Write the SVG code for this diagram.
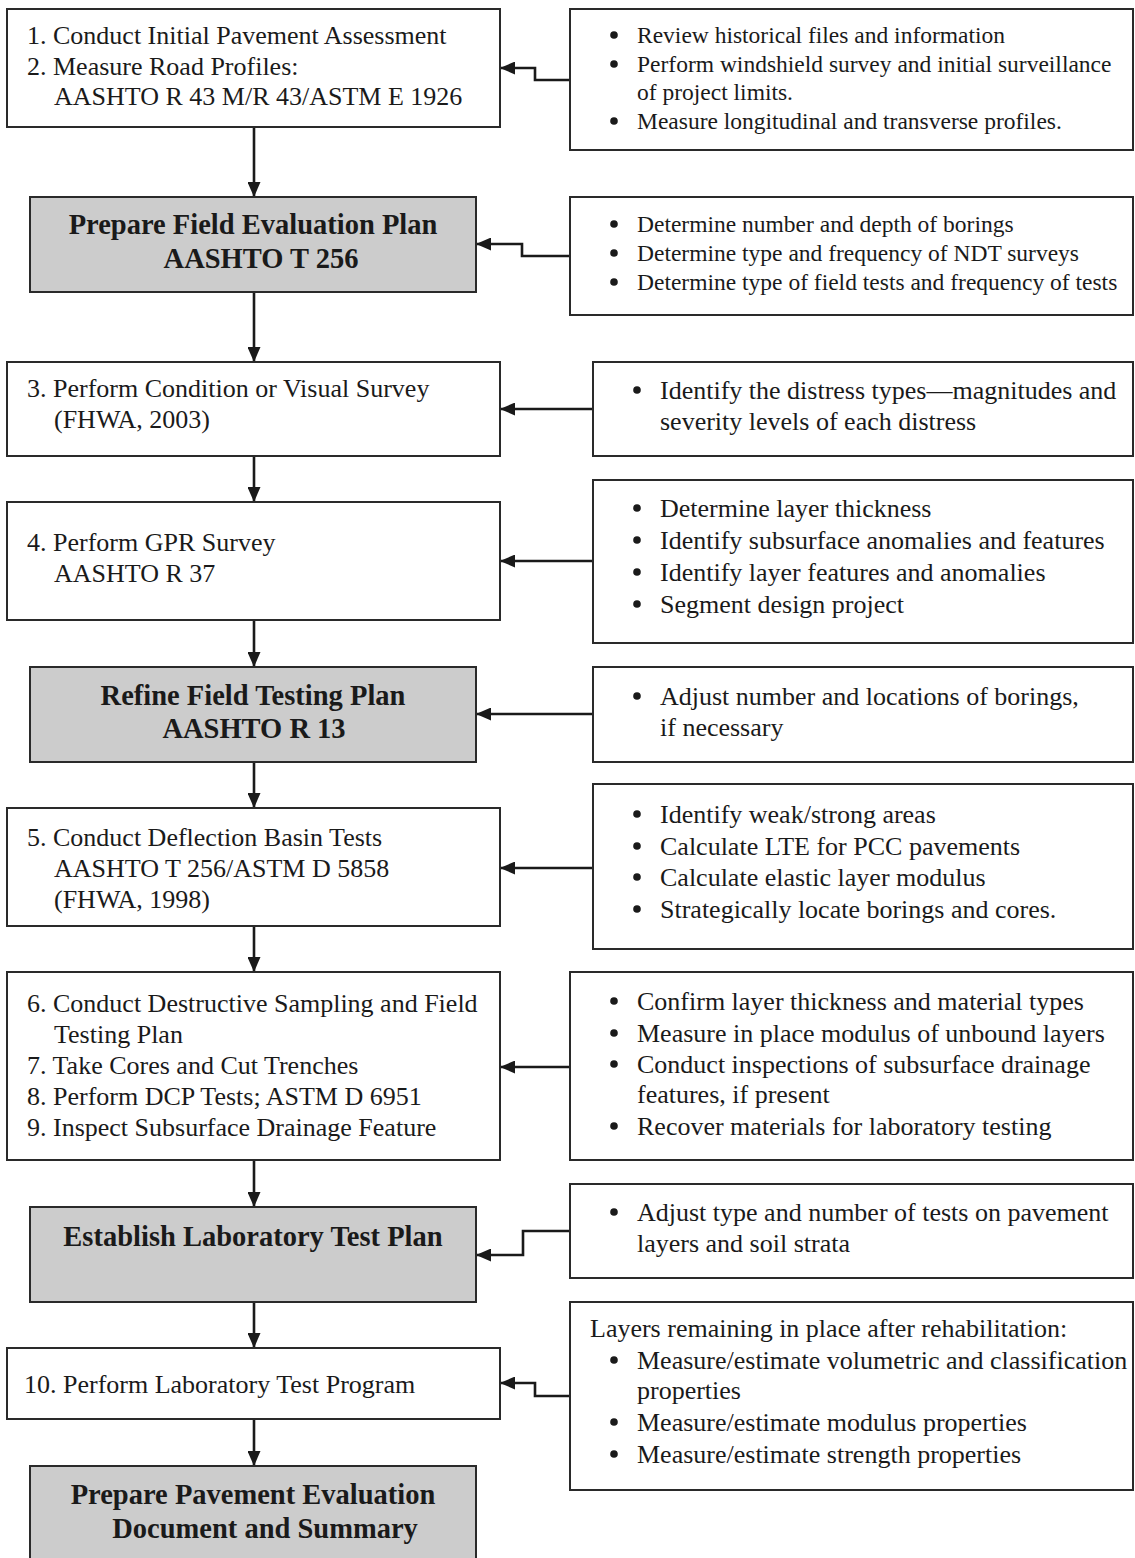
<svg xmlns="http://www.w3.org/2000/svg" width="1135" height="1558" viewBox="0 0 1135 1558">
  <style>
    .box { fill: #ffffff; stroke: #2a2a2a; stroke-width: 2; }
    .gray { fill: #cccccc; stroke: #2a2a2a; stroke-width: 2; }
    text { font-family: "Liberation Serif", "Times New Roman", serif; fill: #1a1a1a; }
    .t { font-size: 26px; }
    .s { font-size: 23.5px; }
    .b { font-size: 28.5px; font-weight: bold; text-anchor: middle; }
    .dot { fill: #1a1a1a; }
    .link { fill: none; stroke: #1a1a1a; stroke-width: 2.6; marker-end: url(#arrow); }
  </style>
  <defs>
    <marker id="arrow" viewBox="0 0 15 13" refX="15" refY="6.5" markerWidth="15" markerHeight="13" markerUnits="userSpaceOnUse" orient="auto">
      <path d="M0,0 L15,6.5 L0,13 z" fill="#1a1a1a"/>
    </marker>
    <circle id="bullet" r="3.8"/>
  </defs>
  <rect width="1135" height="1558" fill="#ffffff"/>

  <!-- connectors -->
  <g id="connectors">
    <!-- main flow -->
    <line class="link" x1="254" y1="127" x2="254" y2="197"/>
    <line class="link" x1="254" y1="292" x2="254" y2="362"/>
    <line class="link" x1="254" y1="456" x2="254" y2="502"/>
    <line class="link" x1="254" y1="620" x2="254" y2="667"/>
    <line class="link" x1="254" y1="762" x2="254" y2="808"/>
    <line class="link" x1="254" y1="926" x2="254" y2="972"/>
    <line class="link" x1="254" y1="1160" x2="254" y2="1207"/>
    <line class="link" x1="254" y1="1302" x2="254" y2="1348"/>
    <line class="link" x1="254" y1="1419" x2="254" y2="1466"/>
    <!-- side notes feeding the steps -->
    <path class="link" d="M570,80 H535 V68 H500"/>
    <path class="link" d="M570,256 H522 V244 H476"/>
    <path class="link" d="M593,409 H500"/>
    <path class="link" d="M593,561 H500"/>
    <path class="link" d="M593,714 H476"/>
    <path class="link" d="M593,868 H500"/>
    <path class="link" d="M570,1067 H500"/>
    <path class="link" d="M570,1231 H523 V1255 H476"/>
    <path class="link" d="M570,1396 H535 V1383 H500"/>
  </g>

  <!-- left column: steps -->
  <g id="step-1-2">
    <rect class="box" x="7" y="9" width="493" height="118"/>
    <text class="t" x="27" y="44">1. Conduct Initial Pavement Assessment</text>
    <text class="t" x="27" y="75">2. Measure Road Profiles:</text>
    <text class="t" x="54" y="105">AASHTO R 43 M/R 43/ASTM E 1926</text>
  </g>
  <g id="field-evaluation-plan">
    <rect class="gray" x="30" y="197" width="446" height="95"/>
    <text class="b" x="253" y="234">Prepare Field Evaluation Plan</text>
    <text class="b" x="261" y="268">AASHTO T 256</text>
  </g>
  <g id="step-3">
    <rect class="box" x="7" y="362" width="493" height="94"/>
    <text class="t" x="27" y="397">3. Perform Condition or Visual Survey</text>
    <text class="t" x="54" y="428">(FHWA, 2003)</text>
  </g>
  <g id="step-4">
    <rect class="box" x="7" y="502" width="493" height="118"/>
    <text class="t" x="27" y="551">4. Perform GPR Survey</text>
    <text class="t" x="54" y="582">AASHTO R 37</text>
  </g>
  <g id="refine-testing-plan">
    <rect class="gray" x="30" y="667" width="446" height="95"/>
    <text class="b" x="253" y="705">Refine Field Testing Plan</text>
    <text class="b" x="254" y="738">AASHTO R 13</text>
  </g>
  <g id="step-5">
    <rect class="box" x="7" y="808" width="493" height="118"/>
    <text class="t" x="27" y="846">5. Conduct Deflection Basin Tests</text>
    <text class="t" x="54" y="877">AASHTO T 256/ASTM D 5858</text>
    <text class="t" x="54" y="908">(FHWA, 1998)</text>
  </g>
  <g id="step-6-9">
    <rect class="box" x="7" y="972" width="493" height="188"/>
    <text class="t" x="27" y="1012">6. Conduct Destructive Sampling and Field</text>
    <text class="t" x="54" y="1043">Testing Plan</text>
    <text class="t" x="27" y="1074">7. Take Cores and Cut Trenches</text>
    <text class="t" x="27" y="1105">8. Perform DCP Tests; ASTM D 6951</text>
    <text class="t" x="27" y="1136">9. Inspect Subsurface Drainage Feature</text>
  </g>
  <g id="lab-test-plan">
    <rect class="gray" x="30" y="1207" width="446" height="95"/>
    <text class="b" x="253" y="1246">Establish Laboratory Test Plan</text>
  </g>
  <g id="step-10">
    <rect class="box" x="7" y="1348" width="493" height="71"/>
    <text class="t" x="24" y="1393">10. Perform Laboratory Test Program</text>
  </g>
  <g id="evaluation-summary">
    <rect class="gray" x="30" y="1466" width="446" height="100"/>
    <text class="b" x="253" y="1504">Prepare Pavement Evaluation</text>
    <text class="b" x="265" y="1538">Document and Summary</text>
  </g>

  <!-- right column: notes -->
  <g id="note-assessment">
    <rect class="box" x="570" y="9" width="563" height="141"/>
    <use class="dot" href="#bullet" x="614" y="35"/><text class="s" x="637" y="43">Review historical files and information</text>
    <use class="dot" href="#bullet" x="614" y="64"/><text class="s" x="637" y="72">Perform windshield survey and initial surveillance</text>
    <text class="s" x="637" y="100">of project limits.</text>
    <use class="dot" href="#bullet" x="614" y="121"/><text class="s" x="637" y="129">Measure longitudinal and transverse profiles.</text>
  </g>
  <g id="note-field-plan">
    <rect class="box" x="570" y="197" width="563" height="118"/>
    <use class="dot" href="#bullet" x="614" y="224"/><text class="s" x="637" y="232">Determine number and depth of borings</text>
    <use class="dot" href="#bullet" x="614" y="253"/><text class="s" x="637" y="261">Determine type and frequency of NDT surveys</text>
    <use class="dot" href="#bullet" x="614" y="282"/><text class="s" x="637" y="290">Determine type of field tests and frequency of tests</text>
  </g>
  <g id="note-condition">
    <rect class="box" x="593" y="362" width="540" height="94"/>
    <use class="dot" href="#bullet" x="637" y="390"/><text class="t" x="660" y="399">Identify the distress types—magnitudes and</text>
    <text class="t" x="660" y="430">severity levels of each distress</text>
  </g>
  <g id="note-gpr">
    <rect class="box" x="593" y="480" width="540" height="163"/>
    <use class="dot" href="#bullet" x="637" y="508"/><text class="t" x="660" y="517">Determine layer thickness</text>
    <use class="dot" href="#bullet" x="637" y="540"/><text class="t" x="660" y="549">Identify subsurface anomalies and features</text>
    <use class="dot" href="#bullet" x="637" y="572"/><text class="t" x="660" y="581">Identify layer features and anomalies</text>
    <use class="dot" href="#bullet" x="637" y="604"/><text class="t" x="660" y="613">Segment design project</text>
  </g>
  <g id="note-refine">
    <rect class="box" x="593" y="667" width="540" height="95"/>
    <use class="dot" href="#bullet" x="637" y="696"/><text class="t" x="660" y="705">Adjust number and locations of borings,</text>
    <text class="t" x="660" y="736">if necessary</text>
  </g>
  <g id="note-deflection">
    <rect class="box" x="593" y="784" width="540" height="165"/>
    <use class="dot" href="#bullet" x="637" y="814"/><text class="t" x="660" y="823">Identify weak/strong areas</text>
    <use class="dot" href="#bullet" x="637" y="846"/><text class="t" x="660" y="855">Calculate LTE for PCC pavements</text>
    <use class="dot" href="#bullet" x="637" y="877"/><text class="t" x="660" y="886">Calculate elastic layer modulus</text>
    <use class="dot" href="#bullet" x="637" y="909"/><text class="t" x="660" y="918">Strategically locate borings and cores.</text>
  </g>
  <g id="note-sampling">
    <rect class="box" x="570" y="972" width="563" height="188"/>
    <use class="dot" href="#bullet" x="614" y="1001"/><text class="t" x="637" y="1010">Confirm layer thickness and material types</text>
    <use class="dot" href="#bullet" x="614" y="1033"/><text class="t" x="637" y="1042">Measure in place modulus of unbound layers</text>
    <use class="dot" href="#bullet" x="614" y="1064"/><text class="t" x="637" y="1073">Conduct inspections of subsurface drainage</text>
    <text class="t" x="637" y="1103">features, if present</text>
    <use class="dot" href="#bullet" x="614" y="1126"/><text class="t" x="637" y="1135">Recover materials for laboratory testing</text>
  </g>
  <g id="note-lab-plan">
    <rect class="box" x="570" y="1184" width="563" height="94"/>
    <use class="dot" href="#bullet" x="614" y="1212"/><text class="t" x="637" y="1221">Adjust type and number of tests on pavement</text>
    <text class="t" x="637" y="1252">layers and soil strata</text>
  </g>
  <g id="note-lab-program">
    <rect class="box" x="570" y="1302" width="563" height="188"/>
    <text class="t" x="590" y="1337">Layers remaining in place after rehabilitation:</text>
    <use class="dot" href="#bullet" x="614" y="1360"/><text class="t" x="637" y="1369">Measure/estimate volumetric and classification</text>
    <text class="t" x="637" y="1399">properties</text>
    <use class="dot" href="#bullet" x="614" y="1422"/><text class="t" x="637" y="1431">Measure/estimate modulus properties</text>
    <use class="dot" href="#bullet" x="614" y="1454"/><text class="t" x="637" y="1463">Measure/estimate strength properties</text>
  </g>
</svg>
